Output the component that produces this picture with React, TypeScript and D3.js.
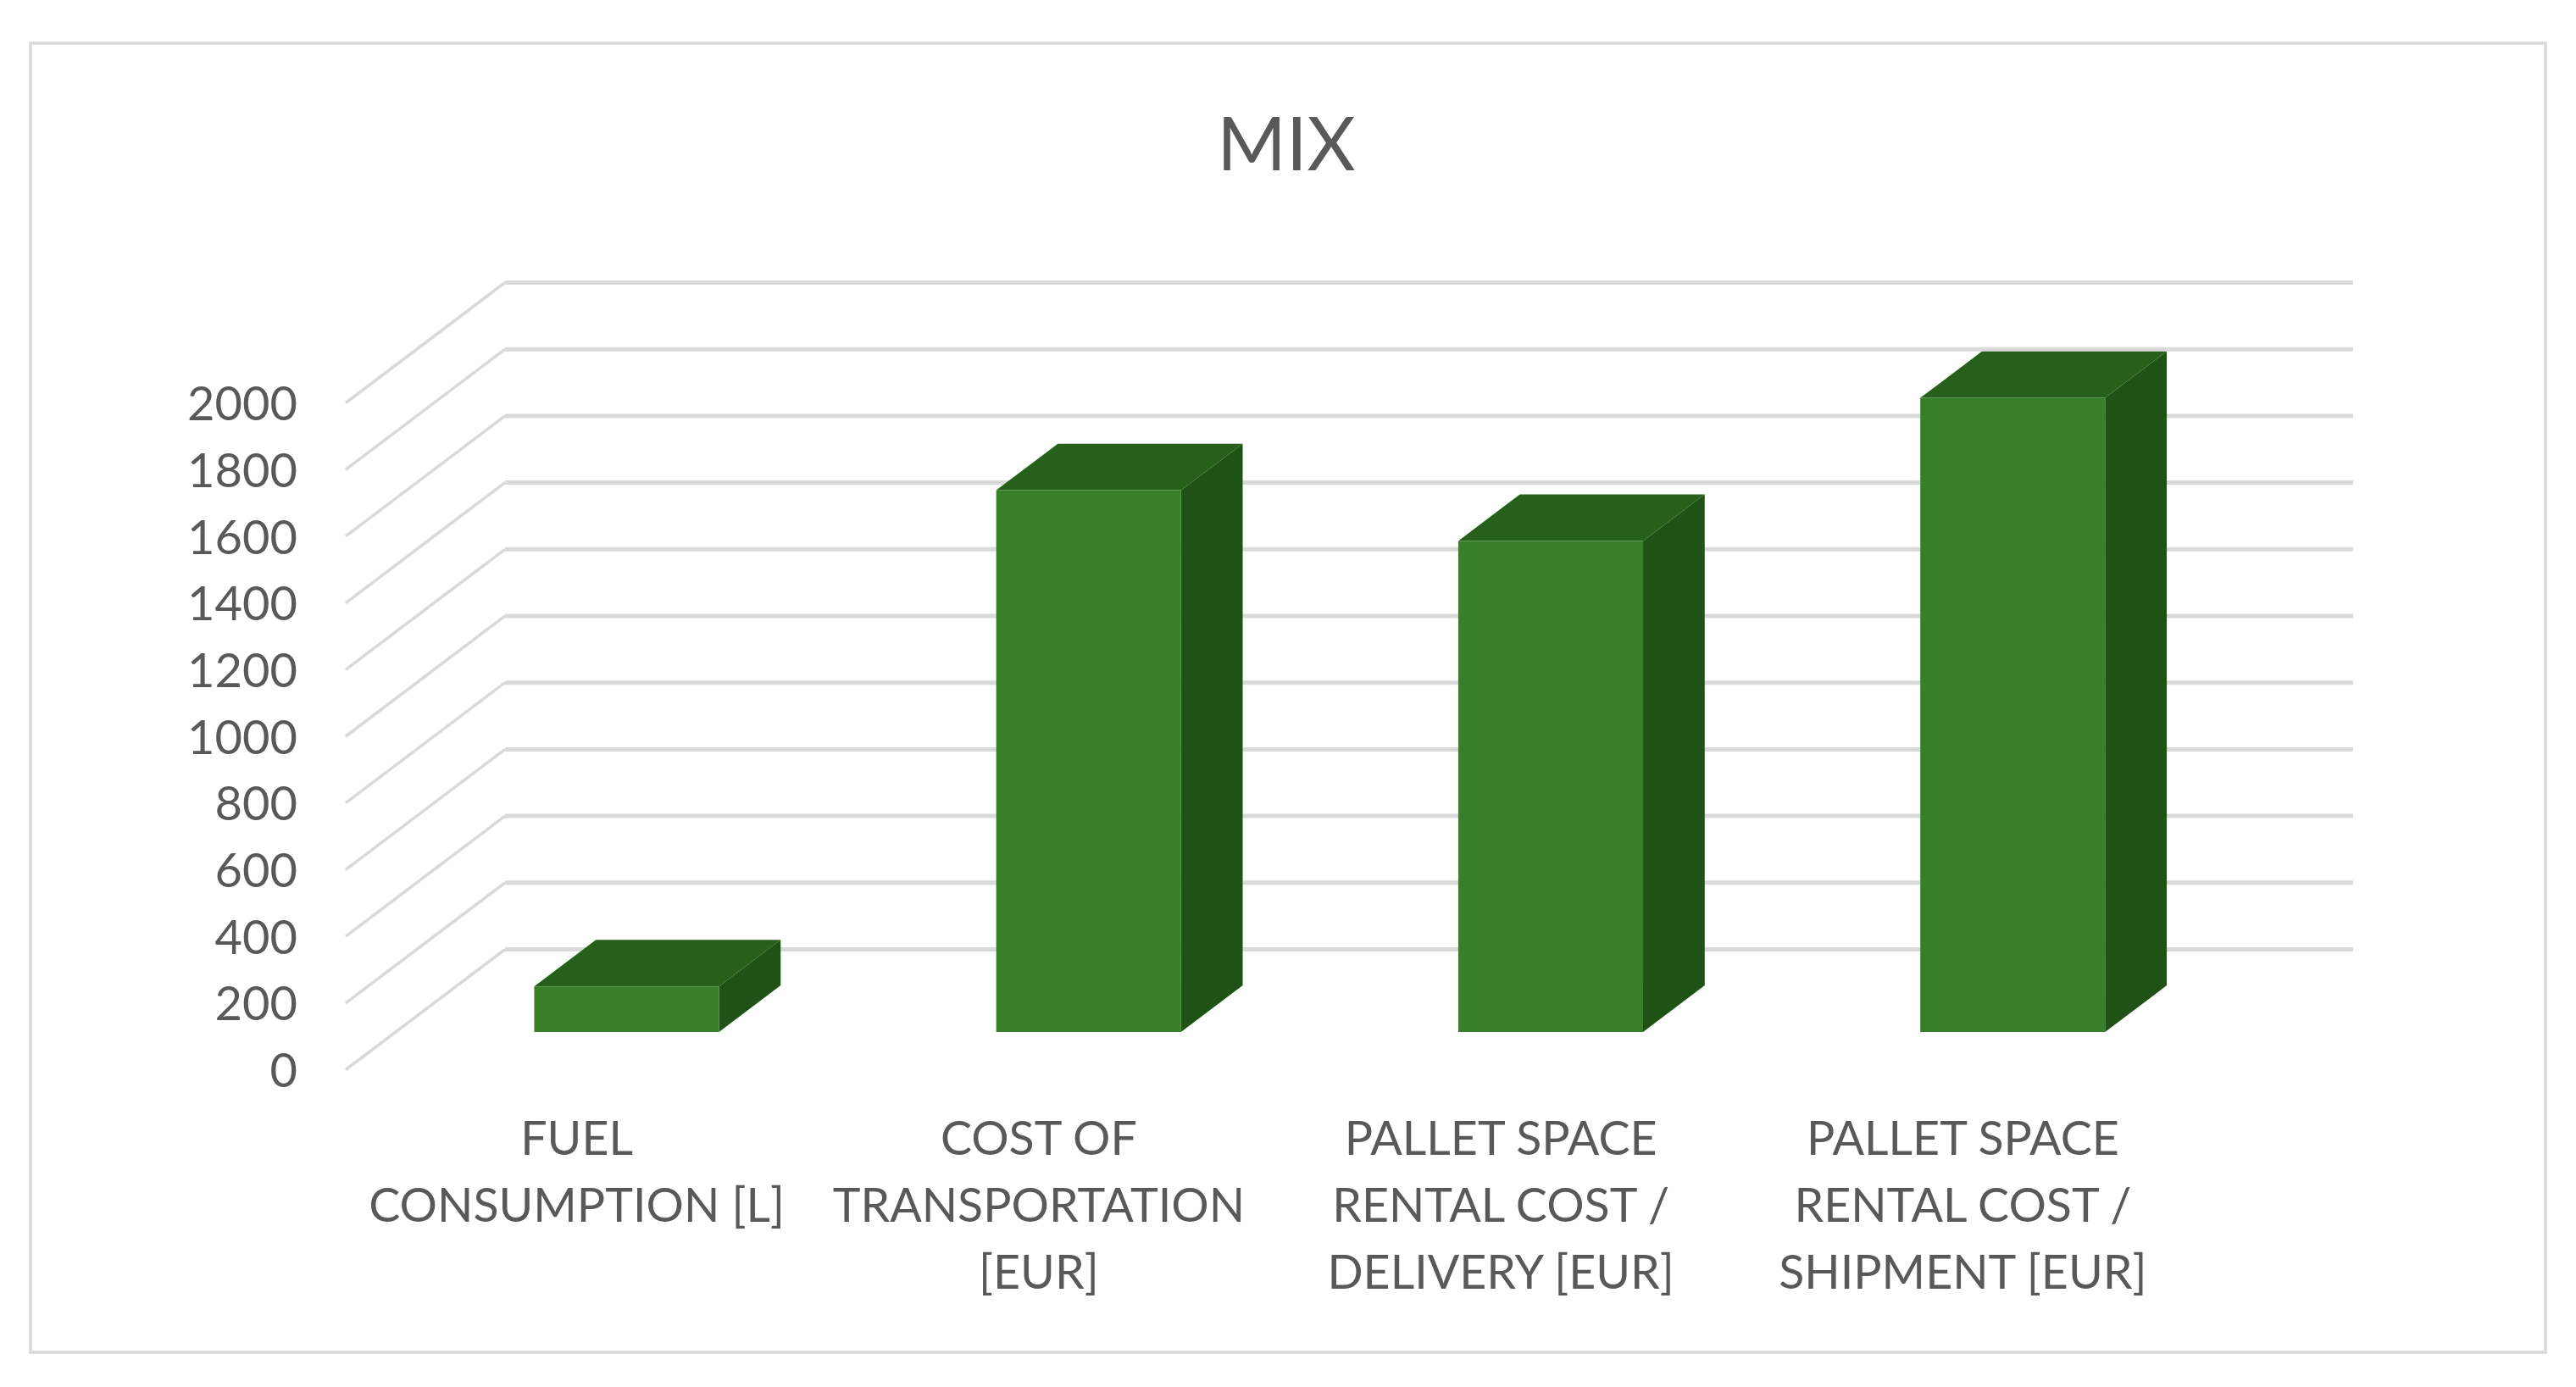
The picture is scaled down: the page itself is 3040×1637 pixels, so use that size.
import React, { useRef, useEffect } from 'react';
import { select, scaleBand, scaleLinear, axisLeft, line } from 'd3';

const title = 'MIX';
const categories = ['fuel', 'transport', 'delivery', 'shipment'];
const categoryLines = [
  ['FUEL', 'CONSUMPTION [L]'],
  ['COST OF', 'TRANSPORTATION', '[EUR]'],
  ['PALLET SPACE', 'RENTAL COST /', 'DELIVERY [EUR]'],
  ['PALLET SPACE', 'RENTAL COST /', 'SHIPMENT [EUR]'],
];
const values = [137, 1625, 1473, 1902];
const yTicks = [0, 200, 400, 600, 800, 1000, 1200, 1400, 1600, 1800, 2000];

const WIDTH = 3040;
const HEIGHT = 1637;
const FONT = 'Lato, sans-serif';
const TEXT_COLOR = '#595959';
const GRID_COLOR = '#d9d9d9';

// oblique projection: how far the back wall sits from the front plane
const DEPTH_X = 188;
const DEPTH_Y = 142;
const BAR_Z0 = 0.313;
const BAR_Z1 = 0.7;

const App = () => {
  const svgRef = useRef<SVGSVGElement>(null);

  useEffect(() => {
    const svg = select(svgRef.current);
    svg.selectAll('*').remove();

    const xScale = scaleBand<string>()
      .domain(categories)
      .range([408, 2589])
      .paddingInner(0.6)
      .paddingOuter(0.3);
    const yScale = scaleLinear().domain([0, 2000]).range([1262.5, 475.5]);

    const project = (x: number, value: number, z: number): [number, number] => [
      x + DEPTH_X * z,
      yScale(value) - DEPTH_Y * z,
    ];
    const path = line();
    const [xLeft, xRight] = xScale.range();

    // frame
    svg
      .append('rect')
      .attr('x', 36)
      .attr('y', 51)
      .attr('width', 2968)
      .attr('height', 1545)
      .attr('fill', '#fff')
      .attr('stroke', GRID_COLOR)
      .attr('stroke-width', 3.5);

    // title
    svg
      .append('text')
      .attr('x', 1518)
      .attr('y', 201)
      .attr('text-anchor', 'middle')
      .attr('font-family', FONT)
      .attr('font-size', 88)
      .attr('fill', TEXT_COLOR)
      .text(title);

    // gridlines: side wall
    svg
      .append('g')
      .selectAll('path')
      .data(yTicks)
      .join('path')
      .attr('fill', 'none')
      .attr('stroke', GRID_COLOR)
      .attr('stroke-width', 3.5)
      .attr('d', (tick) => path([project(xLeft, tick, 0), project(xLeft, tick, 1)]));

    // gridlines: back wall
    svg
      .append('g')
      .selectAll('path')
      .data(yTicks)
      .join('path')
      .attr('fill', 'none')
      .attr('stroke', GRID_COLOR)
      .attr('stroke-width', 5)
      .attr('d', (tick) => path([project(xLeft, tick, 1), project(xRight, tick, 1)]));

    // y-axis
    const yAxis = svg
      .append('g')
      .attr('transform', 'translate(408,0)')
      .call(axisLeft(yScale).tickValues(yTicks).tickFormat((d) => String(d)).tickSize(0).tickPadding(57));
    yAxis.select('.domain').remove();
    yAxis
      .selectAll('text')
      .attr('font-family', FONT)
      .attr('font-size', 56)
      .attr('fill', TEXT_COLOR)
      .attr('dy', '0.36em');

    // bars
    const bars = svg
      .append('g')
      .selectAll('g')
      .data(categories)
      .join('g');

    bars
      .append('path')
      .attr('fill', '#1f5316')
      .attr('d', (c, i) => {
        const x1 = xScale(c)! + xScale.bandwidth();
        return path([
          project(x1, 0, BAR_Z0),
          project(x1, 0, BAR_Z1),
          project(x1, values[i], BAR_Z1),
          project(x1, values[i], BAR_Z0),
        ]) + 'Z';
      });

    bars
      .append('path')
      .attr('fill', '#27601b')
      .attr('d', (c, i) => {
        const x0 = xScale(c)!;
        const x1 = x0 + xScale.bandwidth();
        return path([
          project(x0, values[i], BAR_Z0),
          project(x0, values[i], BAR_Z1),
          project(x1, values[i], BAR_Z1),
          project(x1, values[i], BAR_Z0),
        ]) + 'Z';
      });

    bars
      .append('path')
      .attr('fill', '#378029')
      .attr('d', (c, i) => {
        const x0 = xScale(c)!;
        const x1 = x0 + xScale.bandwidth();
        return path([
          project(x0, 0, BAR_Z0),
          project(x1, 0, BAR_Z0),
          project(x1, values[i], BAR_Z0),
          project(x0, values[i], BAR_Z0),
        ]) + 'Z';
      });

    // x labels
    svg
      .append('g')
      .selectAll('text')
      .data(categories)
      .join('text')
      .attr('text-anchor', 'middle')
      .attr('font-family', FONT)
      .attr('font-size', 55.5)
      .attr('fill', TEXT_COLOR)
      .each(function (c, i) {
        select(this)
          .selectAll('tspan')
          .data(categoryLines[i])
          .join('tspan')
          .attr('x', xScale(c)! + xScale.bandwidth() / 2)
          .attr('y', (_, j) => 1363 + j * 79)
          .text((d) => d);
      });
  }, []);

  return (
    <svg
      ref={svgRef}
      width={WIDTH}
      height={HEIGHT}
      style={{ position: 'absolute', left: 0, top: 0, display: 'block' }}
    />
  );
};

export default App;
